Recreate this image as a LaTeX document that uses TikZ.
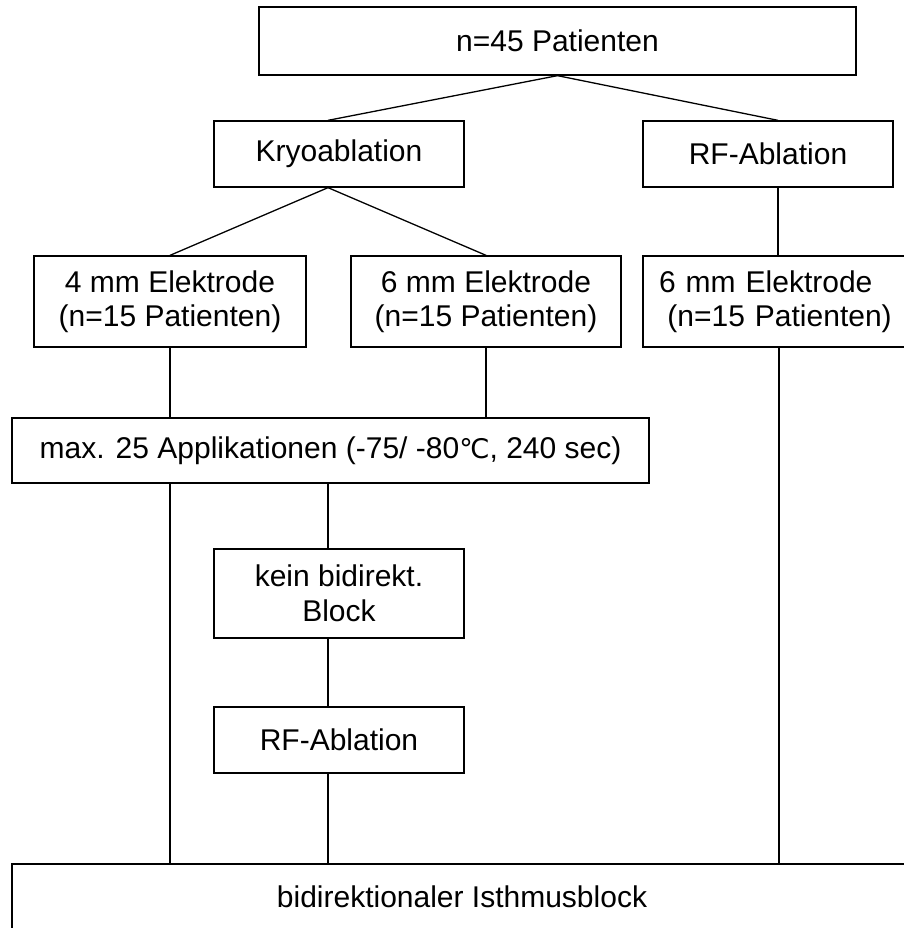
\documentclass[tikz,border=0pt]{standalone}
\usepackage{fontspec}
\setmainfont{Liberation Sans}
\newfontfamily\symfont{DejaVu Sans}
\usetikzlibrary{positioning,calc}

\begin{document}
\begin{tikzpicture}[
    x=1pt, y=-1pt,
    box/.style={draw, line width=1.3pt, inner sep=0pt, align=center,
                font=\fontsize{30}{34.5}\selectfont},
    lnk/.style={line width=1.3pt}
]
\useasboundingbox (0,0) rectangle (903,928);

\node[box, minimum width=597pt, minimum height=68pt] (pat) at (557.5,41) {n=45 Patienten};
\node[box, minimum width=250pt, minimum height=66pt] (kryo) at (339,154) {Kryoablation};
\node[box, minimum width=250pt, minimum height=66pt] (rf) at (768,154) {RF-Ablation};
\node[box, minimum width=272pt, minimum height=91pt] (el4) at (170,301.5) {4 mm Elektrode\\(n=15 Patienten)};
\node[box, minimum width=270pt, minimum height=91pt] (el6) at (486,301.5) {6 mm Elektrode\\(n=15 Patienten)};
\node[box, minimum width=272pt, minimum height=91pt, align=left, text width=240pt] (elrf) at (779,301.5) {6 mm Elektrode\\\hspace*{0.28em}(n=15 Patienten)};
\node[box, minimum width=637pt, minimum height=65pt] (appl) at (330.5,450.5) {max. 25 Applikationen (-75/ -80{\symfont\fontsize{27}{30}\selectfont ℃}, 240 sec)};
\node[box, minimum width=250pt, minimum height=89pt] (kein) at (339,593.5) {kein bidirekt.\\Block};
\node[box, minimum width=250pt, minimum height=66pt] (rf2) at (339,740) {RF-Ablation};
\node[box, minimum width=900pt, minimum height=66pt] (iso) at (462,897) {bidirektionaler Isthmusblock};

% lines leave the kryo column a bit left of the box centre
\coordinate (kx) at ($(kryo.north)+(-11,0)$);
\coordinate (rx) at ($(rf.north)+(10,0)$);

\draw[lnk] (pat.south) -- (kryo.north -| kx);
\draw[lnk] (pat.south) -- (rf.north -| rx);
\draw[lnk] (kryo.south -| kx) -- (el4.north);
\draw[lnk] (kryo.south -| kx) -- (el6.north);
\draw[lnk] (rf.south -| rx) -- (elrf.north -| rx);

\draw[lnk] (el4.south) -- (el4.south |- appl.north);
\draw[lnk] (el6.south) -- (el6.south |- appl.north);
\draw[lnk] (el4.south |- appl.south) -- (el4.south |- iso.north);
\draw[lnk] (appl.south -| kx) -- (kein.north -| kx);
\draw[lnk] (kein.south -| kx) -- (rf2.north -| kx);
\draw[lnk] (rf2.south -| kx) -- (iso.north -| kx);
\draw[lnk] (elrf.south) -- (elrf.south |- iso.north);
\end{tikzpicture}
\end{document}
